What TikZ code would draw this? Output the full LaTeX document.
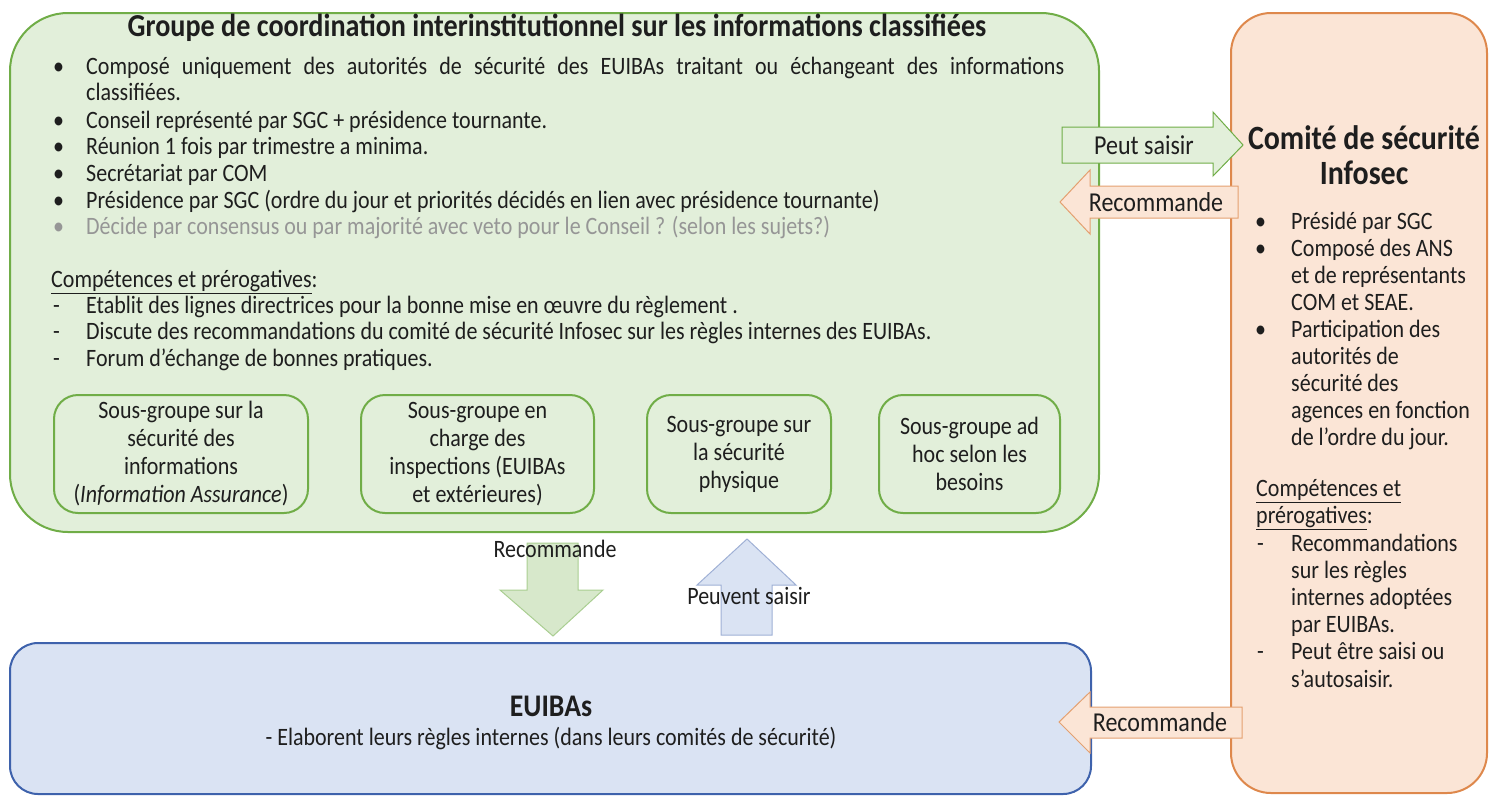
\documentclass[tikz,border=0pt]{standalone}
\usepackage{fontspec}
\setmainfont{Carlito}[FakeStretch=0.88]

\definecolor{grpfill}{RGB}{226,239,218}
\definecolor{grpline}{RGB}{112,173,71}
\definecolor{comfill}{RGB}{251,229,214}
\definecolor{comline}{RGB}{222,136,76}
\definecolor{eufill}{RGB}{218,227,243}
\definecolor{euline}{RGB}{62,98,172}
\definecolor{txtgrey}{RGB}{30,30,30}
\definecolor{lightgrey}{RGB}{150,150,150}

\newcommand{\bodyfont}{\fontsize{25}{27}\selectfont}
\newcommand{\subfont}{\fontsize{25}{28}\selectfont}
\newcommand{\arrowfont}{\fontsize{27.3}{30}\selectfont}

\begin{document}
\begin{tikzpicture}[x=1pt,y=-1pt,
  every node/.style={inner sep=0pt,text=txtgrey},
  txtline/.style={anchor=mid west,font=\bodyfont},
  subbox/.style={draw=grpline,line width=2pt,fill=grpfill,rounded corners=24pt,
    align=center,font=\subfont,minimum height=118pt}]
\useasboundingbox (0,0) rectangle (1490,796);

% the three big boxes
\draw[grpline,fill=grpfill,line width=2pt,rounded corners=58pt] (10,13) rectangle (1099,532);
\draw[comline,fill=comfill,line width=2pt,rounded corners=40pt] (1231,13) rectangle (1487,793);
\draw[euline,fill=eufill,line width=2pt,rounded corners=28pt] (10,643) rectangle (1091,794);

% groupe de coordination
\node[font=\bfseries\fontsize{32}{36}\selectfont] (grptitle) at (557,28) {Groupe de coordination interinstitutionnel sur les informations classifiées};
\node[txtline] (b1) at (53,72) {\textbullet};
\node[txtline] (l1) at (86,72) {\makebox[978pt][s]{Composé uniquement des autorités de sécurité des EUIBAs traitant ou échangeant des informations}};
\node[txtline] (l1b) at (86,98) {classifiées.};
\node[txtline] (b2) at (53,126) {\textbullet};
\node[txtline] (l2) at (86,126) {Conseil représenté par SGC + présidence tournante.};
\node[txtline] (b3) at (53,152) {\textbullet};
\node[txtline] (l3) at (86,152) {Réunion 1 fois par trimestre a minima.};
\node[txtline] (b4) at (53,179) {\textbullet};
\node[txtline] (l4) at (86,179) {Secrétariat par COM};
\node[txtline] (b5) at (53,206) {\textbullet};
\node[txtline] (l5) at (86,206) {Présidence par SGC (ordre du jour et priorités décidés en lien avec présidence tournante)};
\node[txtline,text=lightgrey] (b6) at (53,232) {\textbullet};
\node[txtline,text=lightgrey] (l6) at (86,232) {Décide par consensus ou par majorité avec veto pour le Conseil ? (selon les sujets?)};

\node[txtline] (grpcomp) at (51,285) {\underline{Compétences et prérogatives}:};
\node[txtline] (d1) at (53,311) {-};
\node[txtline] (m1) at (86,311) {Etablit des lignes directrices pour la bonne mise en œuvre du règlement .};
\node[txtline] (d2) at (53,337) {-};
\node[txtline] (m2) at (86,337) {Discute des recommandations du comité de sécurité Infosec sur les règles internes des EUIBAs.};
\node[txtline] (d3) at (53,364) {-};
\node[txtline] (m3) at (86,364) {Forum d’échange de bonnes pratiques.};

% sous-groupes
\node[subbox,minimum width=254pt] (sg1) at (181,454) {Sous-groupe sur la\\sécurité des\\informations\\(\textit{Information Assurance})};
\node[subbox,minimum width=233pt] (sg2) at (477.5,454) {Sous-groupe en\\charge des\\inspections (EUIBAs\\et extérieures)};
\node[subbox,minimum width=184pt] (sg3) at (739,454) {Sous-groupe sur\\la sécurité\\physique};
\node[subbox,minimum width=181pt] (sg4) at (969.5,454) {Sous-groupe ad\\hoc selon les\\besoins};

% comite de securite
\node[align=center,font=\bfseries\fontsize{34}{35}\selectfont] (comtitle) at (1364,155) {Comité de sécurité\\Infosec};
\node[txtline] (cb1) at (1255,227) {\textbullet};
\node[txtline] (c1) at (1291,227) {Présidé par SGC};
\node[txtline] (cb2) at (1255,254) {\textbullet};
\node[txtline] (c2) at (1291,254) {Composé des ANS};
\node[txtline] (c2b) at (1291,281) {et de représentants};
\node[txtline] (c2c) at (1291,308) {COM et SEAE.};
\node[txtline] (cb3) at (1255,335) {\textbullet};
\node[txtline] (c3) at (1291,335) {Participation des};
\node[txtline] (c3b) at (1291,362) {autorités de};
\node[txtline] (c3c) at (1291,389) {sécurité des};
\node[txtline] (c3d) at (1291,416) {agences en fonction};
\node[txtline] (c3e) at (1291,443) {de l’ordre du jour.};
\node[txtline] (comcomp) at (1256,494) {\underline{Compétences et}};
\node[txtline] (comcompb) at (1256,521) {\underline{prérogatives}:};
\node[txtline] (cd1) at (1257,549) {-};
\node[txtline] (e1) at (1291,549) {Recommandations};
\node[txtline] (e1b) at (1291,576) {sur les règles};
\node[txtline] (e1c) at (1291,603) {internes adoptées};
\node[txtline] (e1d) at (1291,630) {par EUIBAs.};
\node[txtline] (cd2) at (1257,657) {-};
\node[txtline] (e2) at (1291,657) {Peut être saisi ou};
\node[txtline] (e2b) at (1291,685) {s’autosaisir.};

% EUIBAs
\node[font=\bfseries\fontsize{31.5}{34}\selectfont] (eutitle) at (551,706) {EUIBAs};
\node[font=\bodyfont] (eutext) at (551,738) {- Elaborent leurs règles internes (dans leurs comités de sécurité)};

% fleches
\draw[grpline,fill=grpfill,line width=1pt] (1062,127) -- (1213,127) -- (1213,112) -- (1243,145) -- (1213,176) -- (1213,163) -- (1062,163) -- cycle;
\node[font=\arrowfont] (peutsaisir) at (1144,145) {Peut saisir};
\draw[comline!80,fill=comfill,line width=1pt] (1238,186) -- (1090,186) -- (1090,170) -- (1060,202) -- (1090,234) -- (1090,218) -- (1238,218) -- cycle;
\node[font=\arrowfont] (recohaut) at (1156,202) {Recommande};
\draw[comline!80,fill=comfill,line width=1pt] (1242,707) -- (1090,707) -- (1090,692) -- (1059,722) -- (1090,753) -- (1090,738) -- (1242,738) -- cycle;
\node[font=\arrowfont] (recobas) at (1160,722) {Recommande};
\draw[grpline!60,fill=grpfill!90!grpline,line width=1pt] (527,543) -- (578,543) -- (578,590) -- (603,590) -- (553,636) -- (500,590) -- (527,590) -- cycle;
\node[font=\bodyfont] (recogrp) at (555,549) {Recommande};
\draw[euline!50,fill=eufill,line width=1pt] (721,635) -- (772,635) -- (772,585) -- (796,585) -- (747,539) -- (697,585) -- (721,585) -- cycle;
\node[font=\bodyfont] (peuvent) at (749,596) {Peuvent saisir};
\end{tikzpicture}
\end{document}
